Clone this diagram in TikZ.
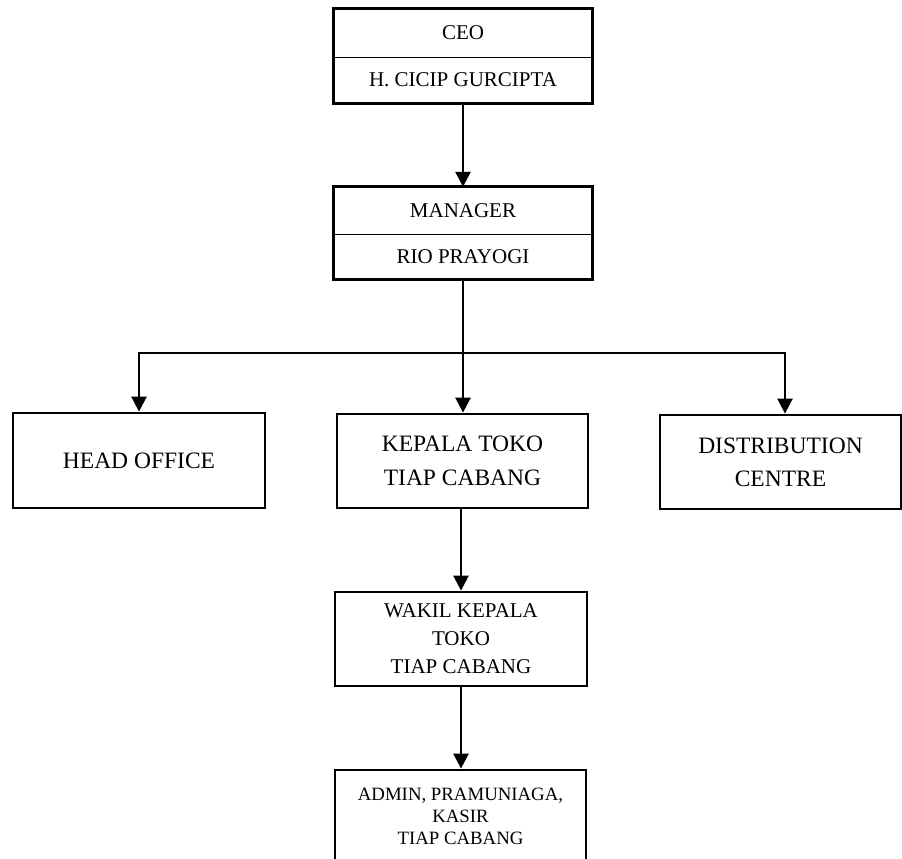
\documentclass[tikz,border=0pt]{standalone}
\usepackage{fontspec}
\setmainfont{Liberation Serif}
\usetikzlibrary{arrows.meta}

\begin{document}
\begin{tikzpicture}[x=1pt, y=-1pt,
  box/.style = {draw, line width=2.8pt, inner sep=0pt, align=center},
  half/.style = {inner sep=0pt, align=center, minimum width=258pt, font=\fontsize{21}{25}\selectfont},
  arr/.style = {line width=2.6pt, -{Triangle[length=15pt, width=15pt]}}]

\useasboundingbox (0,0) rectangle (902,859);

\node[half, minimum height=48pt] (ceo) at (463,33) {CEO};
\node[half, minimum height=46pt] (ceoname) at (463,80) {H. CICIP GURCIPTA};
\draw[line width=1.3pt] (ceo.south west) -- (ceo.south east);
\draw[line width=2.8pt] (ceo.north west) rectangle (ceoname.south east);

\node[half, minimum height=47pt] (manager) at (463,210.5) {MANAGER};
\node[half, minimum height=45pt] (managername) at (463,256.5) {RIO PRAYOGI};
\draw[line width=1.3pt] (manager.south west) -- (manager.south east);
\draw[line width=2.8pt] (manager.north west) rectangle (managername.south east);

\node[box, minimum width=252pt, minimum height=95pt, font=\fontsize{23.5}{34}\selectfont] (head) at (139,460.5) {HEAD OFFICE};
\node[box, minimum width=251pt, minimum height=94pt, font=\fontsize{23.5}{34}\selectfont] (kepala) at (462.5,461) {KEPALA TOKO\\TIAP CABANG};
\node[box, minimum width=241pt, minimum height=94pt, font=\fontsize{23.5}{33}\selectfont] (dist) at (780.5,462) {DISTRIBUTION\\CENTRE};

\node[box, minimum width=252pt, minimum height=94pt, font=\fontsize{21}{28}\selectfont] (wakil) at (461,639) {WAKIL KEPALA\\TOKO\\TIAP CABANG};
\node[box, minimum width=251pt, minimum height=92pt, font=\fontsize{18.8}{22}\selectfont] (admin) at (460.5,816) {ADMIN, PRAMUNIAGA,\\KASIR\\TIAP CABANG};

\coordinate (split) at (463,353);

\draw[arr] (ceoname.south) -- (manager.north);
\draw[line width=2.6pt] (managername.south) -- (split);
\draw[arr] (split) -| (head.north);
\draw[arr] (split) -- (split |- kepala.north);
\draw[arr] (split) -| ([xshift=4.5pt]dist.north);
\draw[arr] (kepala.south -| wakil.north) -- (wakil.north);
\draw[arr] (wakil.south) -- (wakil.south |- admin.north);

\end{tikzpicture}
\end{document}
